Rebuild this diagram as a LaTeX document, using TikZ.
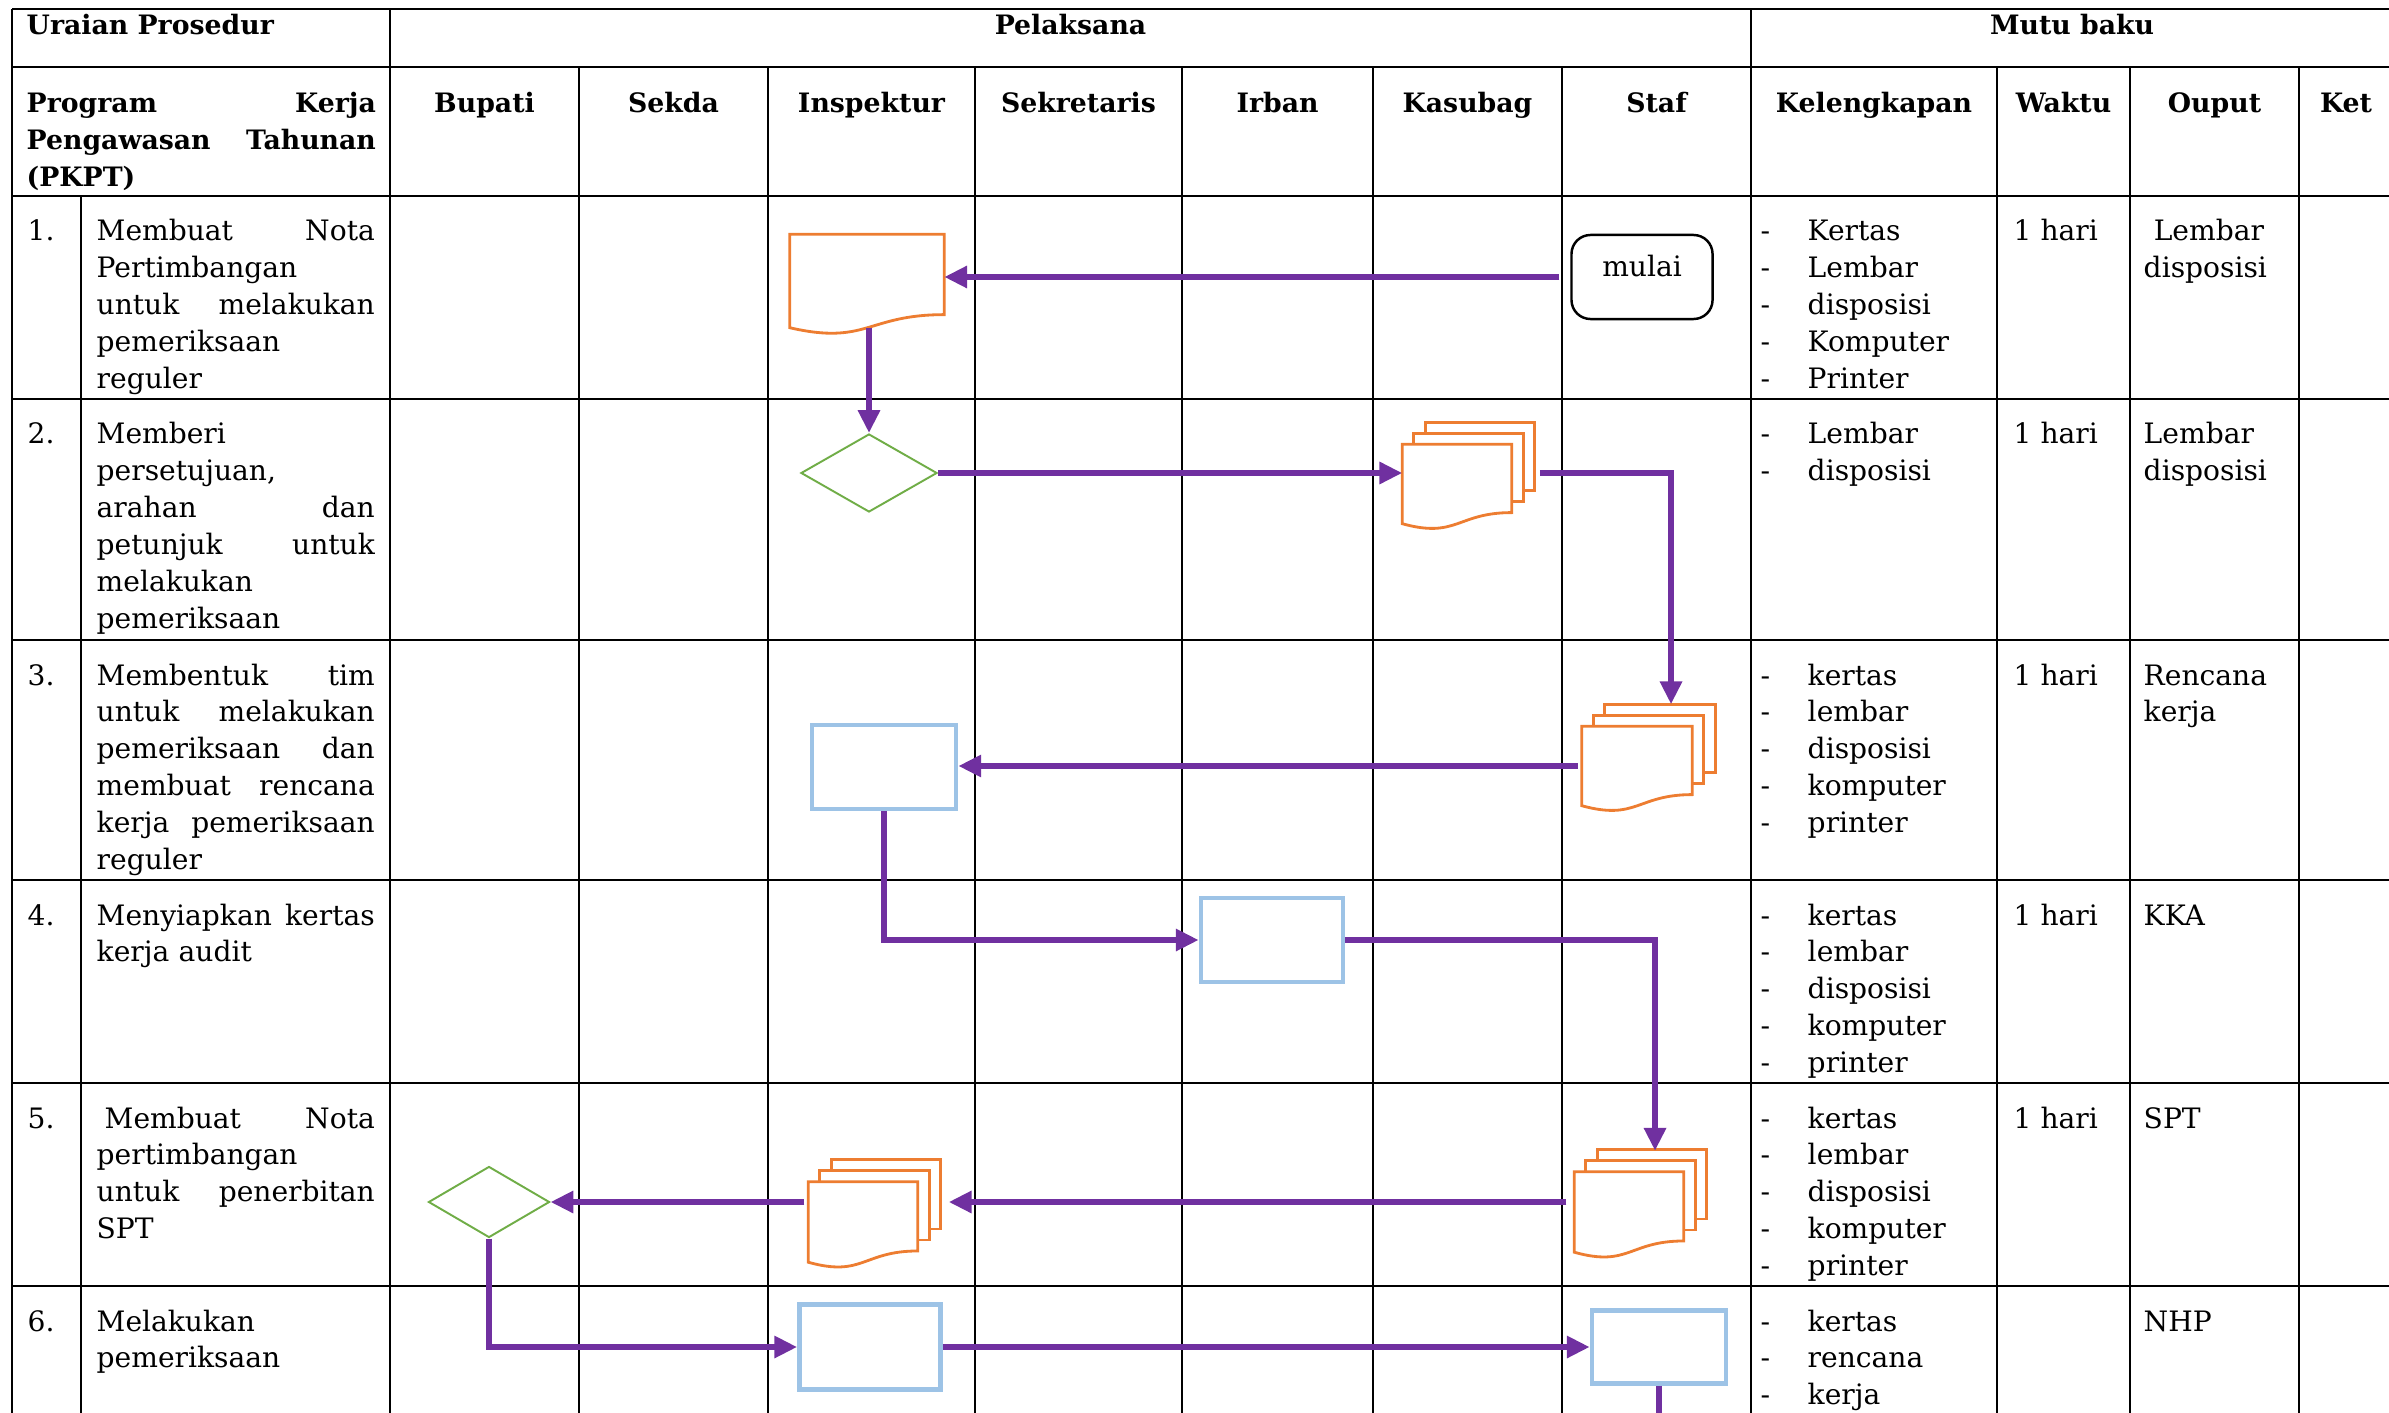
\documentclass[tikz,border=0pt]{standalone}
\usepackage{fontspec}
\setmainfont{DejaVu Serif}
\usepackage{tikz}
\usepackage{xcolor}
\usetikzlibrary{shapes.geometric,arrows.meta,positioning,calc}
\definecolor{flow-pu}{RGB}{112, 48, 160}
\definecolor{doc-or}{RGB}{237, 125, 49}
\definecolor{dec-gr}{RGB}{112, 173, 71}
\definecolor{proc-bl}{RGB}{157, 195, 230}
\tikzstyle{tline}=[draw=black,line width=0.4pt]
\tikzstyle{cell}=[anchor=base west,inner sep=0pt,align=left,font=\fontsize{8}{10.5}\selectfont]
\tikzstyle{desc}=[cell,text width=2.78cm]
\tikzstyle{hd}=[anchor=base,inner sep=0pt,font=\fontsize{7.6}{10.5}\selectfont\bfseries]
\tikzstyle{flow}=[draw=flow-pu,line width=1.7pt,-{Triangle[length=6.5pt,width=6pt]}]
\tikzstyle{docbox}=[rectangle,inner sep=0pt,minimum width=1.08cm,minimum height=0.78cm]
\tikzstyle{docline}=[draw=doc-or,line width=0.8pt,fill=white]
\tikzstyle{procbox}=[rectangle,draw=proc-bl,line width=1.3pt,fill=white,inner sep=0pt]
\tikzstyle{decbox}=[diamond,draw=dec-gr,line width=0.55pt,fill=white,inner sep=0pt]
\tikzstyle{startbox}=[rectangle,draw,line width=0.7pt,rounded corners=0.19cm,inner sep=0pt,minimum width=1.41cm,minimum height=0.84cm,text height=0.42cm,text depth=0.42cm,font=\fontsize{8}{10.5}\selectfont]
\newcommand{\itemdash}{\makebox[0.47cm][l]{-}}
% document symbol drawn round an empty node
\newcommand{\docshape}[1]{%
  \draw[docline] (#1.north west) -- (#1.north east)
    -- ($(#1.north east)!0.86!(#1.south east)$)
    .. controls ($(#1.north)!0.86!(#1.south)$) and ($(#1.north)!1.19!(#1.south)$)
    .. (#1.south west) -- cycle;}
% stack of three documents
\newcommand{\multidoc}[1]{%
  \foreach \k in {2,1} {
    \draw[docline] ($(#1.north west)+(11.5*\k,-11*\k)$) rectangle
      ($(#1.north east)!0.86!(#1.south east)+(11.5*\k,-11*\k)$);
  }
  \docshape{#1}}

\begin{document}
\begin{tikzpicture}[x=0.01cm,y=-0.01cm]
  \useasboundingbox (0,0) rectangle (2389,1413);

  % Table
  \foreach \y in {9,67,196,399,640,880,1083,1286} {
    \draw[tline] (12,\y) -- (2389,\y);
  }
  \foreach \x in {12,390,1751} {
    \draw[tline] (\x,9) -- (\x,1413);
  }
  \foreach \x in {579,768,975,1182,1373,1562,1997,2130,2299} {
    \draw[tline] (\x,67) -- (\x,1413);
  }
  \draw[tline] (81,196) -- (81,1413);

  % Header
  \node[hd,anchor=base west] (uraian) at (26,35) {Uraian Prosedur};
  \node[hd] (pelaksana) at (1070.5,35) {Pelaksana};
  \node[hd] (mutu) at (2072,35) {Mutu baku};
  \node[hd,anchor=base west,text width=3.49cm,align=left] (pkpt) at (26,113)
    {Program\hfill Kerja\\ Pengawasan\hfill Tahunan\\ (PKPT)};
  \foreach \name/\x in {Bupati/484.5,Sekda/673.5,Inspektur/871.5,Sekretaris/1078.5,Irban/1277.5,Kasubag/1467.5,Staf/1656.5,Kelengkapan/1874,Waktu/2063.5,Ouput/2214.5,Ket/2346} {
    \node[hd] (h-\name) at (\x,113) {\name};
  }

  % Steps
  \foreach \n/\y in {1/241,2/444,3/685,4/925,5/1128,6/1331} {
    \node[cell] (no\n) at (27,\y) {\n.};
  }
  \node[desc] (step1) at (96,241) {Membuat\hfill Nota\\ Pertimbangan\\ untuk\hfill melakukan\\ pemeriksaan\\ reguler};
  \node[desc] (step2) at (96,444) {Memberi\\ persetujuan,\\ arahan\hfill dan\\ petunjuk\hfill untuk\\ melakukan\\ pemeriksaan};
  \node[desc] (step3) at (96,685) {Membentuk\hfill tim\\ untuk\hfill melakukan\\ pemeriksaan\hfill dan\\ membuat\hfill rencana\\ kerja\hfill pemeriksaan\\ reguler};
  \node[desc] (step4) at (96,925) {Menyiapkan\hfill kertas\\ kerja audit};
  \node[desc] (step5) at (96,1128) {\hspace*{0.08cm}Membuat\hfill Nota\\ pertimbangan\\ untuk\hfill penerbitan\\ SPT};
  \node[desc] (step6) at (96,1331) {Melakukan\\ pemeriksaan};

  % Kelengkapan
  \node[cell,text width=2.3cm] (kel1) at (1760,241) {\itemdash Kertas\\ \itemdash Lembar\\ \itemdash disposisi\\ \itemdash Komputer\\ \itemdash Printer};
  \node[cell,text width=2.3cm] (kel2) at (1760,444) {\itemdash Lembar\\ \itemdash disposisi};
  \foreach \n/\y in {3/685,4/925,5/1128} {
    \node[cell,text width=2.3cm] (kel\n) at (1760,\y) {\itemdash kertas\\ \itemdash lembar\\ \itemdash disposisi\\ \itemdash komputer\\ \itemdash printer};
  }
  \node[cell,text width=2.3cm] (kel6) at (1760,1331) {\itemdash kertas\\ \itemdash rencana\\ \itemdash kerja};

  % Waktu
  \foreach \n/\y in {1/241,2/444,3/685,4/925,5/1128} {
    \node[cell] (waktu\n) at (2013,\y) {1 hari};
  }

  % Output
  \node[cell,text width=1.5cm] (out1) at (2143,241) {\hspace*{0.1cm}Lembar\\ disposisi};
  \node[cell,text width=1.5cm] (out2) at (2143,444) {Lembar\\ disposisi};
  \node[cell,text width=1.5cm] (out3) at (2143,685) {Rencana\\ kerja};
  \node[cell] (out4) at (2143,925) {KKA};
  \node[cell] (out5) at (2143,1128) {SPT};
  \node[cell] (out6) at (2143,1331) {NHP};

  % Flow symbols
  \node[startbox] (mulai) at (1642,277) {mulai};
  \node[docbox,minimum width=1.53cm,minimum height=0.92cm] (nota) at (867,281) {};
  \docshape{nota}
  \node[decbox,minimum width=1.36cm,minimum height=0.78cm] (setuju) at (869,473) {};
  \node[docbox] (disp) at (1457,484) {};
  \multidoc{disp}
  \node[docbox,minimum width=1.09cm] (timdoc) at (1637,766) {};
  \multidoc{timdoc}
  \node[procbox,minimum width=1.44cm,minimum height=0.84cm] (rencana) at (884,767) {};
  \node[procbox,minimum width=1.42cm,minimum height=0.84cm] (kka) at (1272,940) {};
  \node[docbox,minimum height=0.79cm] (sptstaf) at (1629,1212) {};
  \multidoc{sptstaf}
  \node[docbox,minimum height=0.79cm] (sptinsp) at (863,1222) {};
  \multidoc{sptinsp}
  \node[decbox,minimum width=1.21cm,minimum height=0.71cm] (ttd) at (489,1202) {};
  \node[procbox,minimum width=1.41cm,minimum height=0.85cm] (periksa) at (870,1347) {};
  \node[procbox,minimum width=1.34cm,minimum height=0.73cm] (nhp) at (1659,1347) {};
  \coordinate (lanjut) at (1659,1430);

  % Arrows
  \draw[flow,shorten <=0.11cm] (mulai.west) -- (mulai.west -| nota.east);
  \draw[flow] (nota.south -| setuju.north) -- (setuju.north);
  \draw[flow] (setuju.east) -- (setuju.east -| disp.west);
  \draw[flow] ($(setuju.east -| disp.east)+(28,0)$) -| ($(timdoc.north)+(34,-22)$);
  \draw[flow,shorten <=0.04cm] (timdoc.west) -- (timdoc.west -| rencana.east);
  \draw[flow] (rencana.south) |- (kka.west);
  \draw[flow] (kka.east) -| ($(sptstaf.north)+(26,-21)$);
  \draw[flow] ($(sptstaf.west)+(-8,-10)$) -- ($(sptinsp.east)+(31,-20)$);
  \draw[flow] ($(sptinsp.west)+(-4,-20)$) -- (ttd.east);
  \draw[flow] (ttd.south) |- (periksa.west);
  \draw[flow] (periksa.east) -- (nhp.west);
  \draw[flow,-] (nhp.south) -- (lanjut);
\end{tikzpicture}
\end{document}
